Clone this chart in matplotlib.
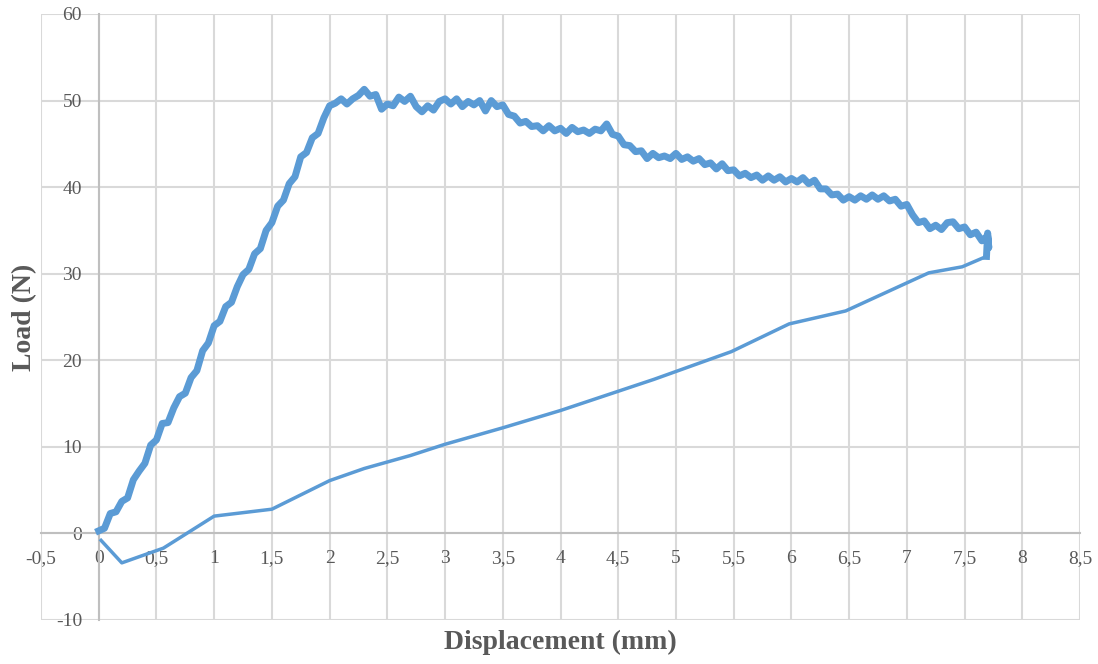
import matplotlib
matplotlib.use('Agg')
import matplotlib.pyplot as plt
from matplotlib.ticker import FuncFormatter, MultipleLocator

# loading branch (noisy measured curve)
load_x = [0.00, 0.05, 0.10, 0.15, 0.20, 0.25, 0.30, 0.35, 0.40, 0.45,
          0.50, 0.55, 0.60, 0.65, 0.70, 0.75, 0.80, 0.85, 0.90, 0.95,
          1.00, 1.05, 1.10, 1.15, 1.20, 1.25, 1.30, 1.35, 1.40, 1.45,
          1.50, 1.55, 1.60, 1.65, 1.70, 1.75, 1.80, 1.85, 1.90, 1.95,
          2.00, 2.05, 2.10, 2.15, 2.20, 2.25, 2.30, 2.35, 2.40, 2.45,
          2.50, 2.55, 2.60, 2.65, 2.70, 2.75, 2.80, 2.85, 2.90, 2.95,
          3.00, 3.05, 3.10, 3.15, 3.20, 3.25, 3.30, 3.35, 3.40, 3.45,
          3.50, 3.55, 3.60, 3.65, 3.70, 3.75, 3.80, 3.85, 3.90, 3.95,
          4.00, 4.05, 4.10, 4.15, 4.20, 4.25, 4.30, 4.35, 4.40, 4.45,
          4.50, 4.55, 4.60, 4.65, 4.70, 4.75, 4.80, 4.85, 4.90, 4.95,
          5.00, 5.05, 5.10, 5.15, 5.20, 5.25, 5.30, 5.35, 5.40, 5.45,
          5.50, 5.55, 5.60, 5.65, 5.70, 5.75, 5.80, 5.85, 5.90, 5.95,
          6.00, 6.05, 6.10, 6.15, 6.20, 6.25, 6.30, 6.35, 6.40, 6.45,
          6.50, 6.55, 6.60, 6.65, 6.70, 6.75, 6.80, 6.85, 6.90, 6.95,
          7.00, 7.05, 7.10, 7.15, 7.20, 7.25, 7.30, 7.35, 7.40, 7.45,
          7.50, 7.55, 7.60, 7.65, 7.70, 7.71, 7.70, 7.69]
load_y = [0.3, 0.6, 2.3, 2.5, 3.7, 4.1, 6.2, 7.2, 8.1, 10.2,
          10.8, 12.7, 12.8, 14.5, 15.8, 16.2, 18.0, 18.8, 21.1, 22.0,
          24.0, 24.5, 26.2, 26.7, 28.5, 29.9, 30.5, 32.3, 32.9, 35.0,
          35.9, 37.8, 38.5, 40.4, 41.2, 43.5, 44.0, 45.7, 46.2, 48.0,
          49.4, 49.7, 50.2, 49.6, 50.2, 50.6, 51.3, 50.5, 50.7, 49.0,
          49.6, 49.4, 50.4, 49.9, 50.5, 49.3, 48.7, 49.4, 48.9, 49.9,
          50.2, 49.6, 50.2, 49.3, 49.9, 49.5, 50.0, 48.8, 50.0, 49.3,
          49.5, 48.4, 48.2, 47.4, 47.6, 47.0, 47.1, 46.5, 47.1, 46.5,
          46.8, 46.2, 46.9, 46.4, 46.6, 46.2, 46.7, 46.5, 47.3, 46.1,
          45.9, 44.9, 44.8, 44.1, 44.2, 43.3, 43.9, 43.4, 43.6, 43.3,
          43.9, 43.2, 43.5, 43.0, 43.3, 42.6, 42.8, 42.1, 42.7, 41.9,
          42.0, 41.3, 41.6, 41.1, 41.4, 40.8, 41.3, 40.8, 41.2, 40.6,
          41.0, 40.6, 41.1, 40.4, 40.8, 39.8, 39.8, 39.1, 39.2, 38.5,
          38.9, 38.5, 39.0, 38.6, 39.1, 38.6, 39.0, 38.4, 38.6, 37.8,
          38.0, 36.8, 35.9, 36.1, 35.2, 35.6, 35.1, 35.9, 36.0, 35.2,
          35.4, 34.5, 34.8, 33.8, 34.4, 33.0, 34.7, 32.0]

# unloading branch
unload_x = [7.69, 7.48, 7.19, 6.47, 5.98, 5.48, 4.81, 4.00, 3.50, 3.00,
            2.70, 2.30, 2.00, 1.50, 1.00, 0.56, 0.20, 0.02]
unload_y = [32.0, 30.8, 30.1, 25.7, 24.2, 21.0, 17.8, 14.2, 12.2, 10.3,
            9.0, 7.5, 6.1, 2.8, 2.0, -1.7, -3.4, -0.8]

xlim = (-0.5, 8.5)
ylim = (-10, 60)

blue = '#5B9BD5'
grid_c = '#D9D9D9'
txt_c = '#595959'

plt.rcParams['font.family'] = ['Liberation Serif', 'DejaVu Serif']

fig = plt.figure(figsize=(10.98, 6.64), dpi=100)
ax = fig.add_axes([41 / 1098, 44 / 664, 1039 / 1098, 606 / 664])

ax.plot(load_x, load_y, color=blue, lw=5, zorder=3)
ax.plot(unload_x, unload_y, color=blue, lw=2.5, zorder=3)

ax.set_xlim(*xlim)
ax.set_ylim(*ylim)
ax.xaxis.set_major_locator(MultipleLocator(0.5))
ax.yaxis.set_major_locator(MultipleLocator(10))


def comma(v, pos):
    s = ('%g' % v).replace('.', ',')
    return s


ax.xaxis.set_major_formatter(FuncFormatter(comma))
ax.yaxis.set_major_formatter(FuncFormatter(comma))

ax.grid(True, color=grid_c, lw=1.5)
ax.set_axisbelow(True)
for ln in ax.get_xgridlines() + ax.get_ygridlines():
    ln.set_clip_on(False)

ax.spines['top'].set_visible(False)
ax.spines['right'].set_visible(False)
ax.spines['left'].set_position(('data', 0))
ax.spines['bottom'].set_position(('data', 0))
for s in ['left', 'bottom']:
    ax.spines[s].set_color('#BFBFBF')
    ax.spines[s].set_linewidth(1.5)
    ax.spines[s].set_zorder(1)

ax.tick_params(axis='both', length=0, labelsize=14, labelcolor=txt_c)
ax.tick_params(axis='x', pad=12)
ax.tick_params(axis='y', pad=12)

fig.text(560 / 1098, 1 - 642 / 664, 'Displacement (mm)', ha='center', va='center',
         fontsize=20, fontweight='bold', color=txt_c)
fig.text(25 / 1098, 1 - 317 / 664, 'Load (N)', ha='center', va='center',
         rotation=90, fontsize=20, fontweight='bold', color=txt_c)

fig.savefig('out.png', dpi=100)
